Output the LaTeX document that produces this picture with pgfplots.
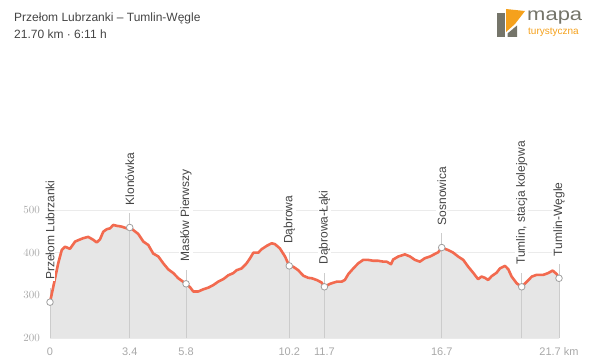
\documentclass[border=0pt]{standalone}
\usepackage{pgfplots}
\pgfplotsset{compat=1.18}
\usepackage{fontspec}
\setmainfont{Liberation Sans}
\definecolor{curvecol}{HTML}{F26A4F}
\definecolor{fillcol}{HTML}{E6E6E6}
\definecolor{gridcol}{HTML}{EBEBEB}
\definecolor{tickcol}{HTML}{A8A8A8}
\definecolor{wplinecol}{HTML}{CCCCCC}
\definecolor{textcol}{HTML}{444444}
\definecolor{logogray}{HTML}{75756A}
\definecolor{logoorange}{HTML}{F5A11C}
\pgfplotstableread{
x y
0 284
0.14 320
0.35 375
0.50 406
0.64 414
0.85 409
1.07 426
1.28 431
1.42 434
1.63 437
1.85 430
1.99 424
2.13 431
2.27 449
2.42 455
2.56 457
2.70 465
2.84 463
3.06 461
3.27 457
3.40 459
3.55 453
3.76 444
3.98 426
4.19 418
4.40 398
4.62 391
4.83 375
5.04 361
5.26 352
5.47 340
5.80 327
5.97 319
6.11 309
6.32 309
6.53 314
6.75 318
6.96 324
7.17 332
7.39 338
7.60 347
7.81 352
7.96 359
8.17 363
8.38 375
8.53 387
8.67 400
8.88 400
9.02 408
9.24 416
9.45 422
9.59 420
9.80 410
10.02 391
10.20 369
10.37 367
10.58 359
10.80 346
11.01 341
11.16 340
11.37 336
11.58 330
11.70 320
11.94 327
12.22 332
12.43 332
12.57 336
12.72 350
12.93 363
13.14 375
13.35 383
13.57 383
13.78 381
13.99 381
14.21 379
14.35 379
14.54 373
14.63 384
14.85 391
15.13 396
15.35 391
15.56 383
15.77 379
15.98 387
16.20 391
16.41 397
16.55 401
16.70 412
16.98 406
17.19 400
17.40 391
17.62 383
17.83 367
18.04 353
18.25 338
18.40 344
18.54 341
18.68 336
18.83 345
19.04 353
19.18 363
19.40 369
19.54 361
19.68 344
19.90 328
20.11 320
20.33 332
20.54 344
20.75 348
21.03 348
21.23 352
21.43 358
21.60 350
21.70 340
}\profile
\pgfplotstableread{
x y
0 284
3.4 459
5.8 327
10.2 369
11.7 320
16.7 412
20.11 320
21.7 340
}\waypoints
\begin{document}
\begin{tikzpicture}[x=1pt,y=1pt]
\path[use as bounding box] (0,0) rectangle (600,362);
% title
\node[anchor=base west, inner sep=0pt, text=textcol, font=\fontsize{12}{14}\selectfont] at (14,340) {Przełom Lubrzanki – Tumlin-Węgle};
\node[anchor=base west, inner sep=0pt, text=textcol, font=\fontsize{12}{14}\selectfont] at (14,323) {21.70 km · 6:11 h};
% logo
\fill[logogray] (497,349) rectangle (505,325);
\fill[logoorange] (506,353) -- (525,351) -- (515,338) -- (506,330) -- cycle;
\fill[logogray] (507.5,325) -- (507.5,328.5) -- (517,336.5) -- (517,325) -- cycle;
\node[anchor=base west, inner sep=0pt, text=logogray, font=\fontsize{18}{20}\selectfont, xscale=1.22] at (527,341) {mapa};
\node[anchor=base west, inner sep=0pt, text=logoorange, font=\fontsize{10}{12}\selectfont] at (528,327.5) {turystyczna};
\begin{axis}[
  at={(50pt,24pt)}, anchor=origin,
  scale only axis, width=509pt, height=128pt,
  xmin=0, xmax=21.7, ymin=200, ymax=500,
  clip=false,
  axis line style={draw=none},
  major tick length=0pt,
  ytick={200,300,400,500},
  ymajorgrids, grid style={gridcol, line width=0.8pt},
  xtick={0,3.4,5.8,10.2,11.7,16.7,21.7},
  xticklabels={0,3.4,5.8,10.2,11.7,16.7,21.7 km},
  tick label style={text=tickcol, font=\fontsize{11}{13}\selectfont},
  yticklabel style={anchor=east, inner sep=0pt, xshift=-10pt},
  xticklabel style={anchor=base, inner sep=0pt, yshift=-17pt},
]
\addplot[fill=fillcol, draw=none] table[x=x,y=y] {\profile} \closedcycle;
% waypoint lines
\addplot[wplinecol, line width=0.8pt] coordinates {(0,200) (0,317)};
\addplot[wplinecol, line width=0.8pt] coordinates {(3.4,200) (3.4,492)};
\addplot[wplinecol, line width=0.8pt] coordinates {(5.8,200) (5.8,360)};
\addplot[wplinecol, line width=0.8pt] coordinates {(10.2,200) (10.2,402)};
\addplot[wplinecol, line width=0.8pt] coordinates {(11.7,200) (11.7,353)};
\addplot[wplinecol, line width=0.8pt] coordinates {(16.7,200) (16.7,445)};
\addplot[wplinecol, line width=0.8pt] coordinates {(20.11,200) (20.11,353)};
\addplot[wplinecol, line width=0.8pt] coordinates {(21.7,200) (21.7,373)};
\addplot[curvecol, line width=2.6pt, line join=round, line cap=round] table[x=x,y=y] {\profile};
\addplot[only marks, mark=*, mark size=3.3pt, mark options={fill=white, draw=gray!75, line width=0.8pt}] table[x=x,y=y] {\waypoints};
% labels
\tikzset{wpl/.style={yshift=21pt, rotate=90, anchor=west, fill=white, inner sep=1pt, text=textcol, font=\fontsize{12}{14}\selectfont}}
\node[wpl] at (axis cs:0,284) {Przełom Lubrzanki};
\node[wpl] at (axis cs:3.4,459) {Klonówka};
\node[wpl] at (axis cs:5.8,327) {Masłów Pierwszy};
\node[wpl] at (axis cs:10.2,369) {Dąbrowa};
\node[wpl] at (axis cs:11.7,320) {Dąbrowa-Łąki};
\node[wpl] at (axis cs:16.7,412) {Sosnowica};
\node[wpl] at (axis cs:20.11,320) {Tumlin, stacja kolejowa};
\node[wpl] at (axis cs:21.7,340) {Tumlin-Węgle};
\end{axis}
\end{tikzpicture}
\end{document}
